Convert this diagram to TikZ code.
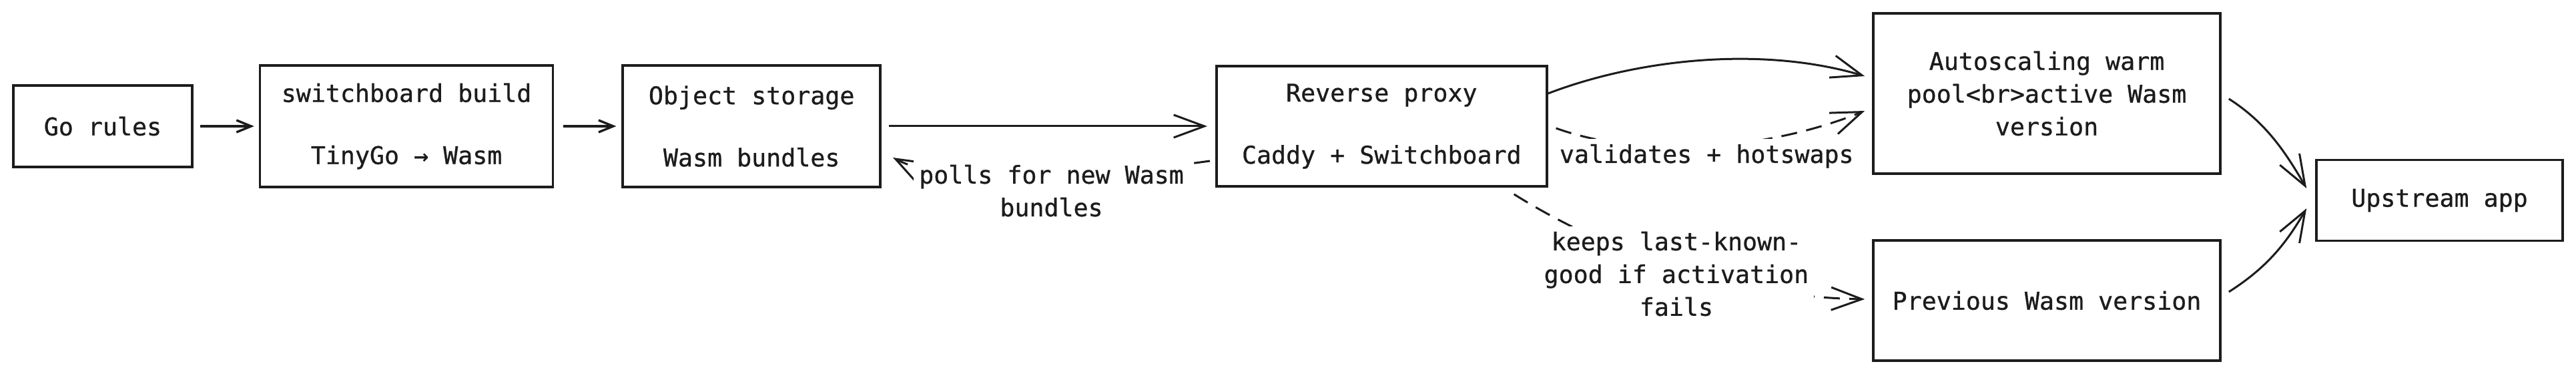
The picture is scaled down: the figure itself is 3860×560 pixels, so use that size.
\documentclass[tikz,border=0pt]{standalone}
\usepackage{fontspec}
\setmainfont[FakeBold=0.8]{DejaVu Sans Mono}
\usepackage{tikz}
\usetikzlibrary{arrows.meta,positioning}
\usepackage{xcolor}
\definecolor{ink}{RGB}{28,28,28}
\tikzset{
  box/.style={draw=ink,line width=1.8pt,fill=white,align=center,inner sep=4pt},
  ar/.style={draw=ink,line width=1.5pt,
    -{Straight Barb[length=23pt,width=17pt,line width=1.5pt]}},
  arsmall/.style={draw=ink,line width=1.7pt,
    -{Straight Barb[length=11pt,width=9pt,line width=1.7pt]}},
  dashar/.style={ar,dash pattern=on 12pt off 7pt},
  lbl/.style={fill=white,inner sep=4pt,align=center,text=ink},
}

\begin{document}
\begin{tikzpicture}[x=0.5pt,y=-0.5pt,
  every node/.style={font=\fontsize{18.3}{24.5}\selectfont,text=ink}]
  \useasboundingbox[fill=white] (0,0) rectangle (3860,560);
  \node[box,minimum width=134pt,minimum height=61pt] (gorules) at (154,189) {Go rules};
  \node[box,right=49pt of gorules,minimum width=219.5pt,minimum height=91pt]
    (build) {switchboard build\\[22pt]TinyGo → Wasm};
  \node[box,right=50.5pt of build,minimum width=193pt,minimum height=91pt]
    (storage) {Object storage\\[22pt]Wasm bundles};
  \node[box,right=250pt of storage,minimum width=247.5pt,minimum height=90pt]
    (proxy) {Reverse proxy\\[22pt]Caddy + Switchboard};
  \node[box,minimum width=260pt,minimum height=120pt] (pool) at (3067,140)
    {Autoscaling warm\\pool<br>active Wasm\\version};
  \node[box,minimum width=260pt,minimum height=90pt] (previous) at (3067,450)
    {Previous Wasm version};
  \node[box,minimum width=184.5pt,minimum height=60.5pt] (upstream) at (3655.5,300)
    {Upstream app};
  \draw[arsmall,shorten <=5pt,shorten >=3.5pt] (gorules) -- (build);
  \draw[arsmall,shorten <=7pt,shorten >=4pt] (build) -- (storage);
  \draw[ar,shorten <=5.5pt,shorten >=6pt] (storage) -- (proxy);
  \draw[dashar] ([shift={(-8,52)}]proxy.west) .. controls +(-100,14) and +(100,53) ..
    node[lbl,yshift=-11pt] {polls for new Wasm\\bundles} ([shift={(17,47)}]storage.east);
  \draw[ar] ([shift={(0,-49)}]proxy.east) .. controls +(133,-51) and +(-156,-46) ..
    ([shift={(-11,-26)}]pool.west);
  \draw[dashar] ([shift={(12,3)}]proxy.east) .. controls +(131,47) and +(-146,59) ..
    node[lbl,yshift=-7.5pt] {validates + hotswaps} ([shift={(-11,26)}]pool.west);
  \draw[dashar] ([shift={(-51,10)}]proxy.south east) .. controls +(144,90) and +(-196,-3) ..
    node[lbl,yshift=-4pt] {keeps last-known-\\good if activation\\fails} ([shift={(-11,-2)}]previous.west);
  \draw[ar] ([shift={(11,8)}]pool.east) .. controls +(55,35) and +(-32,-55) ..
    ([shift={(-13,-18)}]upstream.west);
  \draw[ar] ([shift={(11,-13)}]previous.east) .. controls +(55,-35) and +(-32,55) ..
    ([shift={(-13,12)}]upstream.west);
\end{tikzpicture}
\end{document}
